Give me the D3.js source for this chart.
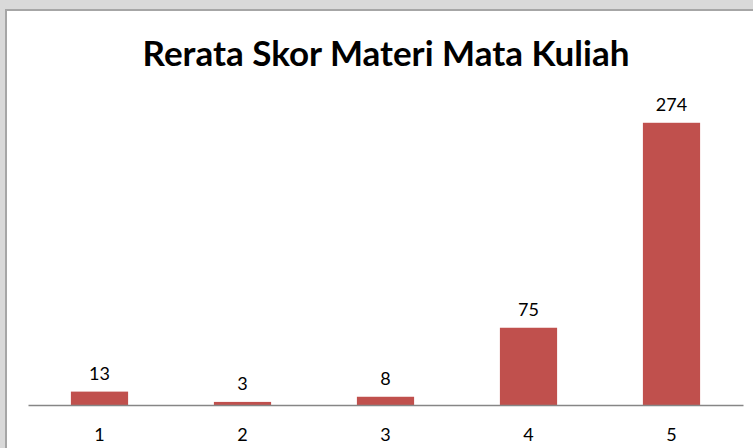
<!DOCTYPE html>
<html>
<head>
<meta charset="utf-8">
<script src="https://cdn.jsdelivr.net/npm/d3@7"></script>
<style>
  body { margin: 0; background: #d9d9d9; }
  svg { display: block; }
</style>
</head>
<body>
<script>
var categories = ['1', '2', '3', '4', '5'];
var values = [13, 3, 8, 75, 274];
var yMax = 300;

var width = 753,
    height = 448,
    plot = {left: 28, right: 743, top: 96, bottom: 405};

var svg = d3.select('body').append('svg')
    .attr('width', width)
    .attr('height', height);

// chart area
svg.append('rect')
    .attr('x', 6).attr('y', 10)
    .attr('width', width).attr('height', height)
    .attr('fill', '#fff')
    .attr('stroke', '#a6a6a6')
    .attr('stroke-width', 2);

var x = d3.scaleBand()
    .domain(categories)
    .range([plot.left, plot.right])
    .paddingInner(0.6)
    .paddingOuter(0.3);

var y = d3.scaleLinear()
    .domain([0, yMax])
    .range([plot.bottom, plot.top]);

svg.append('text')
    .attr('x', 386)
    .attr('y', 66)
    .attr('text-anchor', 'middle')
    .style('font-family', 'Lato, "Open Sans", sans-serif')
    .style('font-weight', 'bold')
    .style('font-size', '35px')
    .attr('fill', '#000')
    .text('Rerata Skor Materi Mata Kuliah');

svg.append('g')
    .selectAll('rect')
    .data(values)
    .enter()
    .append('rect')
    .attr('x', (d, i) => x(categories[i]))
    .attr('width', x.bandwidth())
    .attr('y', d => y(d))
    .attr('height', d => y(0) - y(d))
    .attr('fill', '#c0504d');

// axis line + labels
var axis = svg.append('g')
    .attr('transform', 'translate(0,' + plot.bottom + ')')
    .call(d3.axisBottom(x).tickSize(0).tickPadding(23));
axis.select('.domain').attr('stroke', '#868686').attr('stroke-width', 1.5);
axis.selectAll('text')
    .style('font-family', 'Lato, "Open Sans", sans-serif')
    .style('font-size', '18px')
    .attr('fill', '#000');

svg.append('g')
    .selectAll('text')
    .data(values)
    .enter()
    .append('text')
    .attr('x', (d, i) => x(categories[i]) + x.bandwidth() / 2)
    .attr('y', d => y(d) - 12)
    .attr('text-anchor', 'middle')
    .style('font-family', 'Lato, "Open Sans", sans-serif')
    .style('font-size', '18px')
    .attr('fill', '#000')
    .text(d => d);
</script>
</body>
</html>
